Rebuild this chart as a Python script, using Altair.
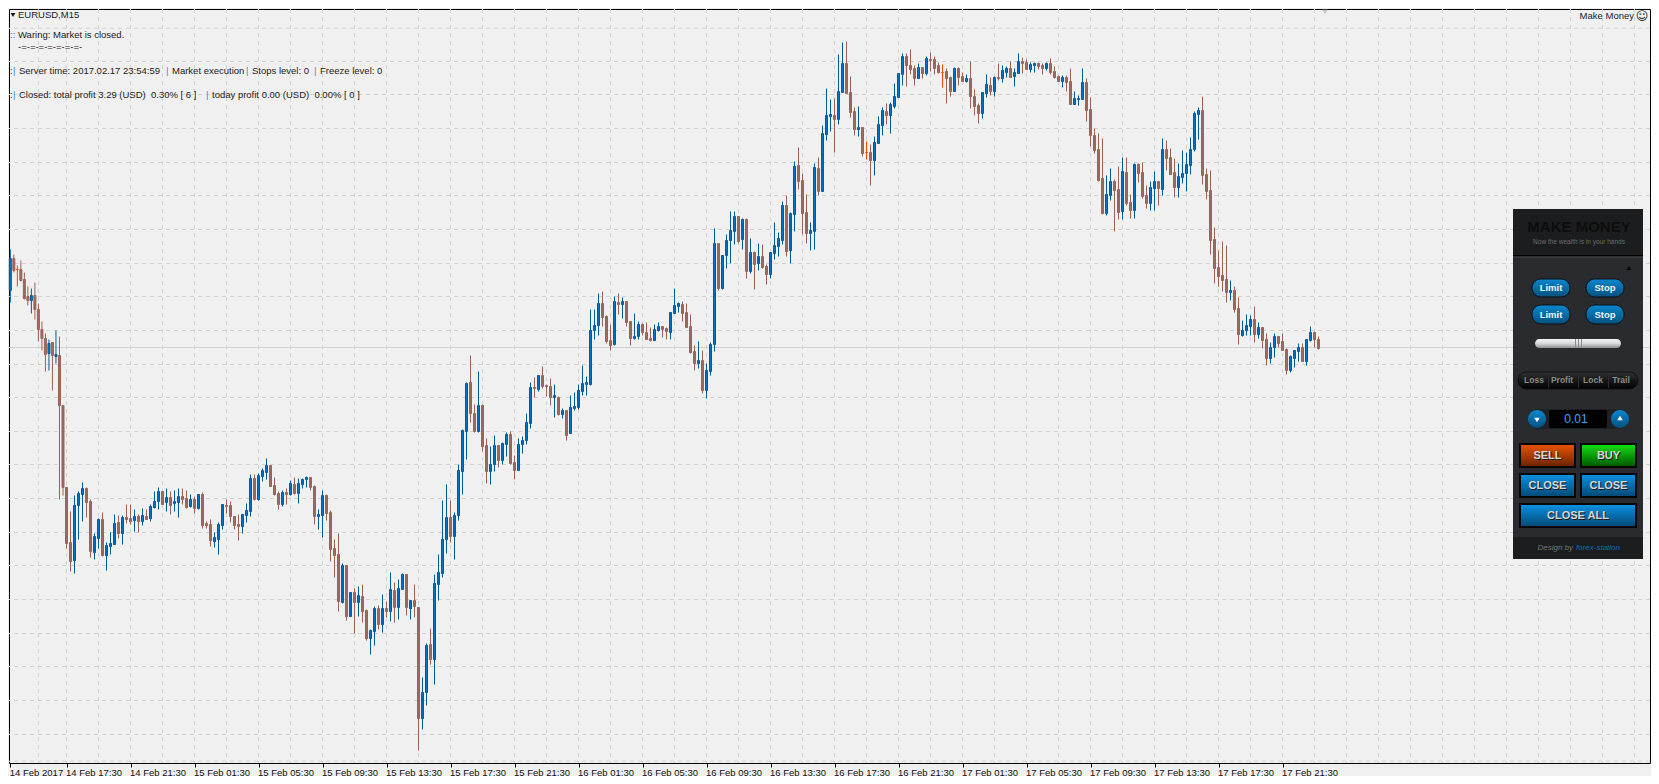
import altair as alt
import pandas as pd

# Candle values, read from the picture as depth below the top of the chart (no price axis is shown).
bar_high = [249,254,265,260,272,286,288,282,303,321,333,339,342,330,336,405,487,511,495,491,
 482,487,499,533,518,512,542,532,514,515,515,504,504,509,514,508,509,504,491,487,
 491,488,491,490,488,488,490,494,496,494,492,521,519,532,522,504,499,501,516,514,
 514,503,474,474,473,468,458,465,477,491,490,488,480,477,478,478,476,477,485,509,
 490,494,510,539,533,563,565,592,588,586,584,609,629,606,605,594,601,572,582,579,
 573,574,600,584,607,677,643,628,574,554,500,484,500,512,464,429,382,355,404,371,
 404,438,446,435,445,442,432,431,455,438,436,413,382,377,375,366,384,378,384,396,
 408,410,395,392,384,365,376,309,309,293,291,315,324,296,293,297,301,321,313,321,
 323,322,327,324,322,326,327,312,288,302,301,303,314,345,341,350,363,342,228,243,
 255,234,211,211,216,218,218,238,251,243,244,264,252,222,232,201,195,212,161,147,
 173,194,222,163,157,125,88,99,98,54,42,41,76,107,106,127,141,144,136,116,
 107,103,102,83,73,53,53,49,65,63,67,56,52,56,62,64,68,76,67,67,
 72,74,61,89,103,92,74,77,76,63,65,66,61,68,53,57,59,62,62,62,
 63,62,58,66,75,75,75,68,91,95,68,78,97,128,133,138,175,168,179,166,
 157,157,194,163,163,162,185,181,171,181,138,140,148,158,163,150,152,137,111,107,
 96,168,170,227,250,241,245,280,286,297,320,314,315,306,322,327,333,342,333,336,
 333,348,355,350,343,343,339,326,331,336]
body_top = [258,258,269,269,279,296,295,295,309,329,338,343,342,354,355,405,487,542,505,493,
 488,488,501,536,519,519,545,543,523,522,517,517,518,516,516,515,516,506,501,491,
 491,497,497,501,496,496,498,499,499,494,494,523,524,537,524,504,505,505,516,524,
 514,510,478,478,475,470,465,465,485,493,492,492,483,484,483,479,477,477,486,514,
 495,495,512,548,554,565,565,592,592,595,596,610,630,608,608,608,608,589,590,588,
 574,574,600,600,607,692,645,644,583,572,539,517,517,515,470,430,383,382,413,405,
 405,445,464,445,445,443,434,434,462,444,440,422,387,387,375,375,385,386,395,397,
 410,410,407,406,390,383,382,330,325,303,303,316,340,301,302,301,301,321,336,324,
 324,332,338,329,326,326,328,312,305,303,304,312,326,351,360,360,370,344,243,243,
 255,240,230,216,216,219,219,252,252,256,256,266,252,245,238,205,205,213,166,165,
 180,212,230,167,168,133,115,114,115,91,63,63,92,111,127,127,152,152,142,124,
 110,111,104,96,73,56,56,65,68,67,67,58,59,59,65,72,71,77,68,68,
 76,78,78,96,105,92,84,85,77,77,70,68,68,72,61,61,62,64,63,63,
 65,63,63,71,76,77,77,81,98,98,82,82,109,135,149,178,194,181,181,189,
 171,172,202,164,164,172,195,187,181,181,149,149,157,172,176,173,164,149,113,110,
 110,174,190,239,267,275,279,290,290,308,330,325,319,319,327,327,339,347,336,336,
 341,349,356,350,347,347,339,332,332,339]
body_bot = [290,270,269,280,298,300,300,309,329,338,354,353,355,356,405,487,543,561,560,505,
 494,502,551,552,538,555,555,546,544,533,533,519,521,520,521,521,519,518,507,501,
 504,502,505,503,502,499,507,506,508,508,525,525,540,541,539,525,506,516,525,526,
 526,515,511,499,499,476,472,486,494,504,504,494,494,493,493,484,479,487,516,516,
 515,513,549,555,601,602,616,616,602,602,611,638,638,631,624,624,611,611,607,607,
 589,607,608,606,718,718,692,659,659,584,573,539,536,536,515,471,431,413,431,431,
 446,471,471,464,460,460,444,463,470,470,444,440,423,388,389,386,386,397,397,414,
 414,435,433,408,407,391,384,384,330,325,317,341,345,344,304,304,322,338,338,336,
 332,339,340,340,330,329,331,332,313,306,313,327,352,363,363,390,390,371,344,288,
 288,255,240,231,241,239,271,271,264,263,267,274,274,253,246,240,251,250,214,181,
 213,233,233,231,191,191,134,116,119,119,92,93,112,129,129,153,152,160,160,143,
 125,115,115,106,97,74,65,69,78,78,73,73,60,68,72,72,78,91,91,77,
 81,81,96,106,113,113,93,91,91,78,78,72,77,76,73,63,69,69,65,66,
 68,68,72,77,81,81,82,104,104,99,99,110,135,150,180,213,213,195,190,212,
 211,203,210,210,173,196,203,203,188,188,189,158,174,187,187,177,173,165,149,114,
 175,191,240,268,276,280,292,292,309,334,335,330,326,334,334,340,358,358,347,343,
 350,370,370,358,351,361,361,340,339,348]
bar_low = [302,272,286,281,299,305,313,319,341,350,371,370,390,363,499,495,548,571,573,539,
 521,517,557,559,548,556,570,554,544,538,544,523,524,531,532,525,519,521,508,509,
 504,511,514,511,517,504,508,507,513,509,528,528,546,547,554,529,513,522,529,540,
 533,522,516,500,500,481,479,486,495,509,506,504,495,494,503,488,487,490,524,529,
 537,520,561,577,611,603,620,616,633,616,622,640,654,645,629,632,617,621,622,619,
 589,615,619,617,750,729,705,664,684,600,577,553,542,559,520,494,459,422,432,432,
 451,483,484,471,467,464,456,464,479,470,453,444,428,397,391,388,396,405,417,415,
 418,440,433,410,409,395,395,385,339,335,326,343,350,345,314,318,326,345,339,339,
 335,339,341,340,331,337,339,339,313,312,321,327,353,370,368,393,398,375,351,290,
 289,268,263,244,243,249,278,273,289,270,268,284,278,259,256,244,256,263,231,189,
 234,243,250,249,195,191,140,131,152,124,92,93,117,135,136,156,159,185,175,143,
 135,124,133,108,97,85,86,74,85,78,78,75,71,74,73,87,103,96,91,85,
 81,82,108,115,123,118,97,95,96,80,82,77,77,86,73,73,69,72,72,69,
 74,70,74,78,81,87,91,104,104,105,99,121,146,153,181,214,215,200,231,219,
 219,205,218,218,182,198,208,210,210,205,195,170,174,197,197,183,191,174,151,139,
 184,199,254,283,286,291,302,300,312,344,336,335,335,342,338,348,365,363,357,347,
 350,374,372,367,361,361,365,341,347,349]
up_bars = [0,6,11,13,18,19,20,23,24,26,27,28,30,33,35,37,38,39,41,43,44,47,49,53,54,55,60,61,62,64,65,66,
 70,72,74,75,76,79,80,85,87,89,92,93,95,97,99,100,102,105,106,108,109,110,111,113,114,115,116,119,122,123,125,126,129,130,131,132,134,138,
 140,142,143,144,145,146,147,148,149,153,155,158,159,163,164,167,168,169,174,176,177,178,180,181,182,183,185,187,189,192,193,194,195,
 197,198,202,203,205,206,207,209,210,214,218,219,220,222,223,224,225,229,231,238,241,245,246,248,250,251,253,254,257,258,261,265,268,269,
 270,276,277,280,283,287,288,290,294,295,296,297,298,299,307,310,311,312,314,317,318,322,323,324,326,327]
neutral_bars = [2,216,235]

grid_bars = list(range(8, 409, 8))
grid_levels = [27,61,94,128,162,195,229,263,296,330,364,397,431,464,498,532,565,599,633,666,700,734,767]
last_price_level = [347]
tick_bars = list(range(0, 321, 16))
tick_labels = ["14 Feb 2017","14 Feb 17:30","14 Feb 21:30","15 Feb 01:30","15 Feb 05:30","15 Feb 09:30",
 "15 Feb 13:30","15 Feb 17:30","15 Feb 21:30","16 Feb 01:30","16 Feb 05:30","16 Feb 09:30","16 Feb 13:30",
 "16 Feb 17:30","16 Feb 21:30","17 Feb 01:30","17 Feb 05:30","17 Feb 09:30","17 Feb 13:30","17 Feb 17:30","17 Feb 21:30"]

FONT = "Liberation Sans"
BG = "#f0f0f0"
GRID = "#d2d2d2"
TS = 9.5

n = len(bar_high)
df = pd.DataFrame({"bar": range(n), "high": bar_high, "top": body_top, "bottom": body_bot, "low": bar_low[:n]})
df["kind"] = ["N" if i in neutral_bars else ("U" if i in up_bars else "D") for i in range(n)]

x_scale = alt.Scale(domain=[-0.375, 16, 411.875], range=[0, 57.5, 1641], padding=0, nice=False, zero=False)
y_scale = alt.Scale(domain=[1, 30, 752, 770], range=[0, 21.5, 743.5, 754], nice=False, zero=False)
kind_wick = alt.Scale(domain=["U", "D", "N"], range=["#005c97", "#9c6256", "#ff4500"])
kind_body = alt.Scale(domain=["U", "D", "N"], range=["#0072c6", "#9e6a5f", "#ff4500"])
kind_edge = alt.Scale(domain=["U", "D", "N"], range=["#005c97", "#9c6256", "#ff4500"])

X = alt.X("bar:Q", scale=x_scale, title=None, axis=alt.Axis(
    values=tick_bars, grid=False, domain=False, ticks=True, tickSize=4, tickColor="#000", tickWidth=1,
    labelFont=FONT, labelFontSize=TS, labelColor="#111", labelAlign="left", labelPadding=0, labelOffset=-1,
    labelOverlap=False, labelFlush=False, labelBound=False,
    labelExpr="%s[round(datum.value/16)]" % str(tick_labels)))
Y = alt.Y("high:Q", scale=y_scale, title=None, axis=None)

grid_v = alt.Chart(pd.DataFrame({"bar": grid_bars})).mark_rule(color=GRID, strokeWidth=1, strokeDash=[4, 4]).encode(x=X)
grid_h = alt.Chart(pd.DataFrame({"level": grid_levels})).mark_rule(color=GRID, strokeWidth=1, strokeDash=[4, 4]).encode(
    y=alt.Y("level:Q", scale=y_scale, axis=None, title=None))
price = alt.Chart(pd.DataFrame({"level": last_price_level})).mark_rule(color="#d0d0d0", strokeWidth=1).encode(
    y=alt.Y("level:Q", scale=y_scale, axis=None, title=None))
wicks = alt.Chart(df).mark_rule(strokeWidth=1).encode(
    x=X, y=Y, y2="low:Q", color=alt.Color("kind:N", scale=kind_wick, legend=None))
bodies = alt.Chart(df).mark_bar(size=2, strokeWidth=1).encode(
    x=X, y=alt.Y("top:Q", scale=y_scale, axis=None, title=None), y2="bottom:Q",
    fill=alt.Fill("kind:N", scale=kind_body, legend=None),
    stroke=alt.Stroke("kind:N", scale=kind_edge, legend=None))

one = pd.DataFrame({"a": [0]})
def px(v): return v - 9
def py(v): return v - 9
def grad(*stops):
    k = len(stops) - 1
    return {"gradient": "linear", "x1": 0, "y1": 0, "x2": 0, "y2": 1,
            "stops": [{"offset": i / k, "color": c} for i, c in enumerate(stops)]}
def box(x1, y1, x2, y2, fill, r=0, stroke=None):
    kw = {"fill": fill, "cornerRadius": r}
    if stroke:
        kw.update(stroke=stroke, strokeWidth=1)
    return alt.Chart(one).mark_rect(**kw).encode(
        x=alt.value(px(x1)), x2=alt.value(px(x2)), y=alt.value(py(y1)), y2=alt.value(py(y2)))
def label(x, y, s, size=TS, color="#222", bold=False, align="left", font=FONT, italic=False):
    kw = dict(text=s, font=font, fontSize=size, color=color, align=align, baseline="middle",
              fontWeight="bold" if bold else "normal", fontStyle="italic" if italic else "normal")
    return alt.Chart(one).mark_text(**kw).encode(x=alt.value(px(x)), y=alt.value(py(y)))
def glyph(x, y, shape, size, color):
    return alt.Chart(one).mark_point(shape=shape, filled=True, size=size, color=color, opacity=1).encode(
        x=alt.value(px(x)), y=alt.value(py(y)))

BLUE_PILL = grad("#0a88cf", "#04507d")
layers = [grid_v, grid_h, price, wicks, bodies]

# top left comments
SEP = "#3d8fd1"
NB = "\u00a0"
layers += [
    glyph(1325, 12, "triangle-down", 28, "#c6c6c6"),
    glyph(13, 15, "triangle-down", 22, "#111"),
    label(18, 15, "EURUSD,M15"),
    label(1634, 16, "Make Money", align="right"),
    label(1642, 16, "\u263a", 12, font="DejaVu Sans", align="center"),
    label(10, 35, "::", color="#2f6fa8"),
    label(18, 35, "Waring: Market is closed."),
    label(18, 47, "-=-=-=-=-=-=-=-"),
    label(10, 71, ":"), label(13, 71, "|", color=SEP),
    label(19, 71, "Server time: 2017.02.17 23:54:59"),
    label(166, 71, "|", color=SEP), label(172, 71, "Market execution"),
    label(246, 71, "|", color=SEP), label(252, 71, "Stops level: 0"),
    label(314, 71, "|", color=SEP), label(320, 71, "Freeze level: 0"),
    label(10, 95, ":"), label(13, 95, "|", color=SEP),
    label(19, 95, "Closed: total profit 3.29 (USD)" + NB + NB + "0.30% [ 6 ]"),
    label(206, 95, "|", color=SEP), label(212, 95, "today profit 0.00 (USD)" + NB + NB + "0.00% [ 0 ]"),
]

# trading panel
layers += [
    box(1513, 209, 1643, 559, "#2a2b2e"),
    box(1513, 209, 1643, 255, "#1c1d1f"),
    box(1513, 255, 1643, 256.5, "#000000"),
    box(1513, 256.5, 1643, 257.5, "#45474a"),
    box(1513, 537, 1643, 559, "#1c1d1f"),
    label(1579, 227, "MAKE MONEY", 15, "#0c0d0e", True, "center"),
    label(1579, 242, "Now the wealth is in your hands", 6.5, "#6d6e70", False, "center"),
    glyph(1629, 268, "triangle-up", 22, "#050505"),
]
for x1, x2, cap in [(1532, 1570, "Limit"), (1586, 1624, "Stop")]:
    for y1, y2 in [(279, 297), (305, 324)]:
        layers += [box(x1, y1, x2, y2, BLUE_PILL, 9, "#0a1016"),
                   label((x1 + x2) / 2, (y1 + y2) / 2, cap, 9.5, "#eef4f8", True, "center")]
layers += [box(1535, 339, 1621, 348, grad("#f4f4f4", "#d8d8d8", "#8f8f8f"), 4.5)]
for tx in [1575, 1578, 1581]:
    layers += [box(tx, 339, tx + 1, 348, "#8c8c8c")]
layers += [box(1518, 372, 1638, 389, grad("#303030", "#000000"), 8.5, "#111111")]
for tx in [1548, 1578, 1608]:
    layers += [box(tx, 373, tx + 1, 388, "#2c2c2c")]
for tx, cap in [(1534, "Loss"), (1562, "Profit"), (1593, "Lock"), (1621, "Trail")]:
    layers += [label(tx, 380, cap, 8.5, "#8a8a8a", True, "center")]
layers += [
    box(1528, 409, 1629, 429, "#202124", 10),
    box(1549, 410, 1607, 428, "#000000", 2),
    label(1576, 419, "0.01", 12, "#3ea6ff", False, "center"),
    box(1528, 410, 1546, 428, grad("#0a88cf", "#04507d"), 9),
    box(1611, 410, 1629, 428, grad("#0a88cf", "#04507d"), 9),
    glyph(1537, 420, "triangle-down", 30, "#ffffff"),
    glyph(1620, 418, "triangle-up", 30, "#ffffff"),
]
for ox1, oy1, ox2, oy2, fill, cap in [
    (1519, 443, 1576, 468, grad("#e65200", "#6e2400"), "SELL"),
    (1580, 443, 1637, 468, grad("#12dc12", "#005c00"), "BUY"),
    (1519, 473, 1576, 498, grad("#0a90e0", "#034a78"), "CLOSE"),
    (1580, 473, 1637, 498, grad("#0a90e0", "#034a78"), "CLOSE"),
    (1519, 503, 1637, 528, grad("#0a90e0", "#034a78"), "CLOSE ALL"),
]:
    layers += [box(ox1, oy1, ox2, oy2, "#060606"),
               box(ox1 + 2, oy1 + 2, ox2 - 2, oy2 - 2, fill),
               label((ox1 + ox2) / 2 + 1, (oy1 + oy2) / 2 + 1, cap, 11, "#1a1a1a", True, "center"),
               label((ox1 + ox2) / 2, (oy1 + oy2) / 2, cap, 11, "#d8d8d8", True, "center")]
layers += [
    label(1573, 548, "Design by", 8, "#77787a", False, "right", italic=True),
    label(1576, 548, "forex-station", 8, "#0a6fb5", False, "left", italic=True),
]

chart = alt.layer(*layers).resolve_scale(color="independent", fill="independent", stroke="independent").properties(
    width=1641, height=754,
    padding={"left": 1, "top": 1, "right": 1, "bottom": 13},
    autosize=alt.AutoSizeParams(type="none"),
    background=BG,
).configure_view(stroke="#000000", strokeWidth=1)

chart.save("out.html", embed_options={"renderer": "svg", "actions": False})
